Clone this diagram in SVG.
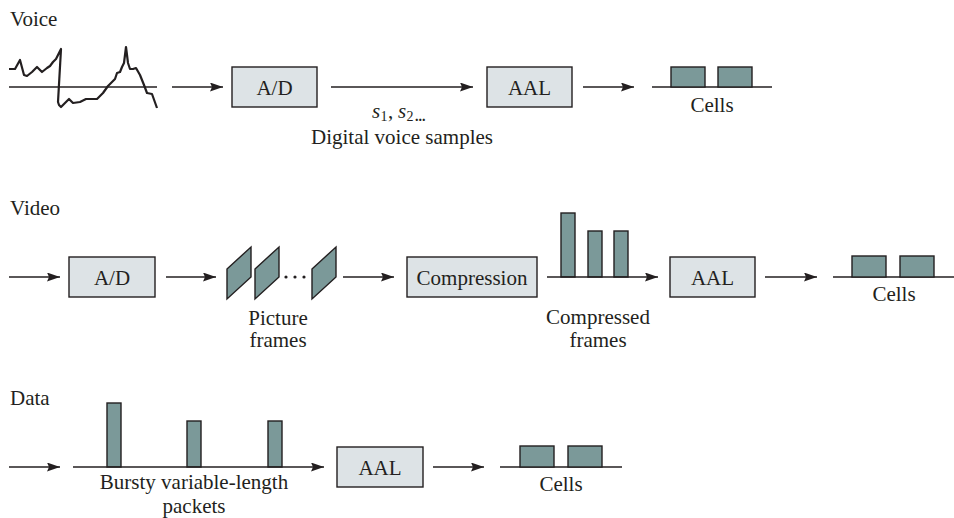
<svg xmlns="http://www.w3.org/2000/svg" width="954" height="518" viewBox="0 0 954 518">
<defs>
<marker id="ah" markerUnits="userSpaceOnUse" markerWidth="14" markerHeight="10" refX="13" refY="4.5" orient="auto">
<path d="M0,0 L13,4.5 L0,9 L2,4.5 z" fill="#231f20"/>
</marker>
<style>
.t{font-family:"Liberation Serif","Times New Roman",serif;font-size:21px;fill:#231f20}
.c{text-anchor:middle}
.i{font-style:italic}
.sub{font-size:14px}
.box{fill:#dde3e6;stroke:#231f20;stroke-width:1.4}
.bar{fill:#7b9999;stroke:#231f20;stroke-width:1.4}
.ln{stroke:#231f20;stroke-width:1.5;fill:none}
.ar{stroke:#231f20;stroke-width:1.5;fill:none;marker-end:url(#ah)}
.wave{stroke:#231f20;stroke-width:2.2;fill:none;stroke-linejoin:round}
</style>
</defs>

<!-- Labels -->
<text class="t" x="10" y="26">Voice</text>
<text class="t" x="10" y="215">Video</text>
<text class="t" x="10" y="405">Data</text>

<!-- Voice row -->
<g id="voice-wave">
<line class="ln" x1="9" y1="87" x2="157" y2="87"/>
<polyline class="wave" points="9,69 15,69 20,60 24,75 27,76 32,72 37,67 42,72 47,68 50,66 53,62 56,59 58,55 61,49 58,102 59,105 61,107 65,103 69,99 73,103 80,102 86,99 97,99 103,93 108,86 115,79 117,73 120,72 122,67 124,63 126,47 128,63 130,69 133,69 136,68 140,75 144,85 147,93 152,94 157,108"/>
</g>
<g id="voice-ad">
<rect class="box" x="232" y="67" width="85" height="40"/>
<text class="t c" x="274.5" y="95">A/D</text>
</g>
<g id="voice-samples">
<text class="t i" x="372" y="118">s</text>
<text class="t sub" x="380.5" y="121">1</text>
<text class="t" x="388" y="118">,</text>
<text class="t i" x="398" y="118">s</text>
<text class="t sub" x="406.5" y="121">2</text>
<text class="t sub" x="415" y="121" font-weight="bold">...</text>
<text class="t c" x="402" y="144">Digital voice samples</text>
</g>
<g id="voice-aal">
<rect class="box" x="487" y="67" width="85" height="40"/>
<text class="t c" x="529.5" y="95">AAL</text>
</g>
<g id="voice-cells">
<line class="ln" x1="652" y1="87" x2="772" y2="87"/>
<rect class="bar" x="671" y="67" width="34" height="20"/>
<rect class="bar" x="718" y="67" width="34" height="20"/>
<text class="t c" x="712" y="112">Cells</text>
</g>

<!-- Video row -->
<g id="video-ad">
<rect class="box" x="69" y="257" width="86" height="40"/>
<text class="t c" x="112" y="285">A/D</text>
</g>
<g id="video-frames">
<polygon class="bar" points="227,269 251,247 251,277 227,299"/>
<polygon class="bar" points="255,269 279,247 279,277 255,299"/>
<circle cx="286" cy="277" r="1.6" fill="#231f20"/>
<circle cx="295" cy="277" r="1.6" fill="#231f20"/>
<circle cx="304" cy="277" r="1.6" fill="#231f20"/>
<polygon class="bar" points="312,269 336,247 336,277 312,299"/>
<text class="t c" x="278" y="325">Picture</text>
<text class="t c" x="278" y="347">frames</text>
</g>
<g id="video-compression">
<rect class="box" x="407" y="257" width="130" height="40"/>
<text class="t c" x="472" y="285">Compression</text>
</g>
<g id="video-compressed">
<rect class="bar" x="561" y="213" width="14" height="64"/>
<rect class="bar" x="588" y="231" width="14" height="46"/>
<rect class="bar" x="614" y="231" width="14" height="46"/>
<text class="t c" x="598" y="324">Compressed</text>
<text class="t c" x="598" y="347">frames</text>
</g>
<g id="video-aal">
<rect class="box" x="670" y="257" width="85" height="40"/>
<text class="t c" x="712.5" y="285">AAL</text>
</g>
<g id="video-cells">
<line class="ln" x1="833" y1="277" x2="954" y2="277"/>
<rect class="bar" x="852" y="256" width="34" height="21"/>
<rect class="bar" x="900" y="256" width="34" height="21"/>
<text class="t c" x="894" y="301">Cells</text>
</g>

<!-- Data row -->
<g id="data-packets">
<rect class="bar" x="107" y="403" width="14" height="64"/>
<rect class="bar" x="187" y="421" width="14" height="46"/>
<rect class="bar" x="268" y="421" width="14" height="46"/>
<text class="t c" x="194" y="489">Bursty variable-length</text>
<text class="t c" x="194" y="513">packets</text>
</g>
<g id="data-aal">
<rect class="box" x="337" y="447" width="86" height="40"/>
<text class="t c" x="380" y="475">AAL</text>
</g>
<g id="data-cells">
<line class="ln" x1="500" y1="467" x2="622" y2="467"/>
<rect class="bar" x="520" y="446" width="34" height="21"/>
<rect class="bar" x="568" y="446" width="34" height="21"/>
<text class="t c" x="561" y="491">Cells</text>
</g>

<!-- Connectors -->
<g id="connectors">
<line class="ar" x1="172" y1="87" x2="223" y2="87"/>
<line class="ar" x1="331" y1="87" x2="473" y2="87"/>
<line class="ar" x1="583" y1="87" x2="634" y2="87"/>
<line class="ar" x1="9" y1="277" x2="60" y2="277"/>
<line class="ar" x1="166" y1="277" x2="216" y2="277"/>
<line class="ar" x1="343" y1="277" x2="394" y2="277"/>
<line class="ar" x1="547" y1="277" x2="658" y2="277"/>
<line class="ar" x1="765" y1="277" x2="817" y2="277"/>
<line class="ar" x1="9" y1="467" x2="60" y2="467"/>
<line class="ar" x1="73" y1="467" x2="324" y2="467"/>
<line class="ar" x1="433" y1="467" x2="484" y2="467"/>
</g>
</svg>
